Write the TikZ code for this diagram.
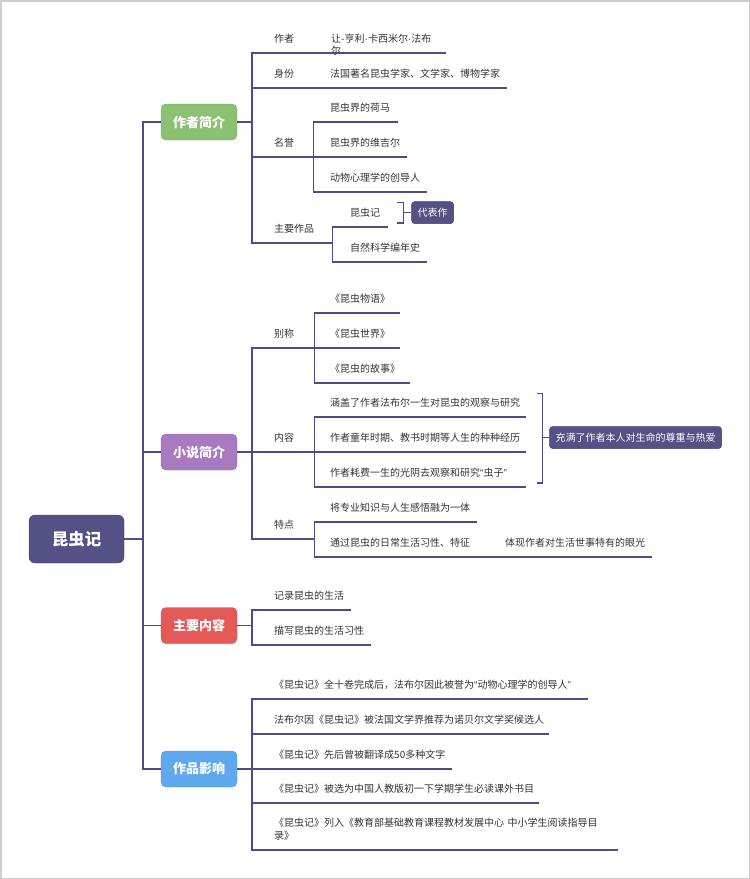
\documentclass[tikz,border=0pt]{standalone}
\usepackage{fontspec}
\newfontfamily\cjk{Noto Sans CJK SC}
\newfontfamily\latin{Liberation Sans}
\usepackage{tikz}
\usetikzlibrary{positioning}
\definecolor{linecol}{HTML}{4E4B87}
\definecolor{rootcol}{HTML}{545184}
\definecolor{rootline}{HTML}{423F70}
\definecolor{greencol}{HTML}{8CC173}
\definecolor{greenline}{HTML}{7AB060}
\definecolor{purplecol}{HTML}{A87BC0}
\definecolor{purpleline}{HTML}{9669AE}
\definecolor{redcol}{HTML}{E35A59}
\definecolor{redline}{HTML}{D04949}
\definecolor{bluecol}{HTML}{5FA8EE}
\definecolor{blueline}{HTML}{4F97DD}
\definecolor{textcol}{HTML}{333333}
\definecolor{bordercol}{HTML}{CCCCCC}
\tikzstyle{root} = [rectangle, rounded corners=6pt, fill=rootcol, draw=rootline, minimum width=95pt, minimum height=48pt, text=white, font=\cjk\bfseries\fontsize{16.5}{18}\selectfont]
\tikzstyle{topic} = [rectangle, rounded corners=5pt, minimum width=76pt, minimum height=36pt, text=white, font=\cjk\bfseries\fontsize{13}{15}\selectfont]
\tikzstyle{leaf} = [anchor=south west, inner xsep=0pt, inner ysep=10pt, text depth=0pt, align=left, text=textcol, font=\cjk\fontsize{10}{12}\selectfont]
\tikzstyle{tag} = [rectangle, rounded corners=3pt, fill=rootcol, draw=rootline, text=white, minimum height=22pt, inner xsep=6pt, font=\cjk\fontsize{10}{12}\selectfont]
\tikzstyle{branch} = [draw=linecol, line width=1.2pt]

\begin{document}
\begin{tikzpicture}[x=1pt, y=-1pt]
		\useasboundingbox (0,0) rectangle (750,879);
		\draw [bordercol, line width=1.5pt] (0.75,0.75) rectangle (749.25,878.25);
		% root and main topics
		\node (Root) [root] at (76.5,539) {昆虫记};
		\coordinate (MainFork) at (143,539);
		\node (AuthorIntro) [topic, fill=greencol, draw=greenline] at (199,122) {作者简介};
		\node (NovelIntro) [topic, fill=purplecol, draw=purpleline] at (199,452) {小说简介};
		\node (MainContent) [topic, fill=redcol, draw=redline] at (199,625.5) {主要内容};
		\node (Influence) [topic, fill=bluecol, draw=blueline] at (199,769) {作品影响};
		\draw [branch] (Root) -- (MainFork);
		\draw [branch] (MainFork) |- (AuthorIntro);
		\draw [branch] (MainFork) |- (NovelIntro);
		\draw [branch] (MainFork) |- (MainContent);
		\draw [branch] (MainFork) |- (Influence);
		% 作者简介
		\coordinate (ForkA) at (252,122);
		\node (Writer) [leaf, text width=39pt] at (274,53) {作者};
		\node (WriterName) [leaf, text width=115pt] at (331,53) {\rlap{\raisebox{-11.5pt}{尔}}让-亨利{\latin ·}卡西米尔{\latin ·}法布};
		\node (Identity) [leaf, text width=39pt] at (274,88) {身份};
		\node (IdentityText) [leaf, text width=177pt] at (330,88) {法国著名昆虫学家、文学家、博物学家};
		\node (Honor) [leaf, text width=39pt] at (274,157) {名誉};
		\node (HonorA) [leaf, text width=68pt] at (330,122) {昆虫界的荷马};
		\node (HonorB) [leaf, text width=77pt] at (330,157) {昆虫界的维吉尔};
		\node (HonorC) [leaf, text width=97pt] at (330,192) {动物心理学的创导人};
		\node (Works) [leaf, text width=58pt] at (274,243) {主要作品};
		\node (WorksA) [leaf, text width=38pt] at (350,227) {昆虫记};
		\node (WorksB) [leaf, text width=77pt] at (350,262) {自然科学编年史};
		\draw [branch] (AuthorIntro) -- (ForkA);
		\draw [branch] (ForkA) |- (Writer.south west) -- (Writer.south east) -- (WriterName.south west) -- (WriterName.south east);
		\draw [branch] (ForkA) |- (Identity.south west) -- (Identity.south east) -- (IdentityText.south west) -- (IdentityText.south east);
		\draw [branch] (ForkA) |- (Honor.south west) -- (Honor.south east) -- (HonorB.south west) -- (HonorB.south east);
		\draw [branch] (Honor.south east) |- (HonorA.south west) -- (HonorA.south east);
		\draw [branch] (Honor.south east) |- (HonorC.south west) -- (HonorC.south east);
		\draw [branch] (ForkA) |- (Works.south west) -- (Works.south east) |- (WorksA.south west) -- (WorksA.south east);
		\draw [branch] (Works.south east) |- (WorksB.south west) -- (WorksB.south east);
		\draw [branch] ([xshift=9pt,yshift=-4pt]WorksA.north east) -- ++(6,0) |- ([xshift=9pt,yshift=4pt]WorksA.south east);
		\coordinate (BraceA) at ([xshift=15pt]WorksA.east);
		\node (Masterpiece) [tag, right = 8pt of BraceA] {代表作};
		\draw [branch] (BraceA) -- (Masterpiece);
		% 小说简介
		\coordinate (ForkB) at (252,452);
		\node (Alias) [leaf, text width=40pt] at (274,348) {别称};
		\node (AliasA) [leaf, text width=70pt] at (330,313) {《昆虫物语》};
		\node (AliasB) [leaf, text width=70pt] at (330,348) {《昆虫世界》};
		\node (AliasC) [leaf, text width=80pt] at (330,383) {《昆虫的故事》};
		\node (Content) [leaf, text width=40pt] at (274,452) {内容};
		\node (Cover) [leaf, text width=196pt] at (330,417) {涵盖了作者法布尔一生对昆虫的观察与研究};
		\node (Childhood) [leaf, text width=196pt] at (330,452) {作者童年时期、教书时期等人生的种种经历};
		\node (Lifetime) [leaf, text width=196pt] at (330,487) {作者耗费一生的光阴去观察和研究{\latin “}虫子{\latin ”}};
		\node (Feature) [leaf, text width=40pt] at (274,539) {特点};
		\node (FeatureA) [leaf, text width=147pt] at (330,522) {将专业知识与人生感悟融为一体};
		\node (FeatureB) [leaf, text width=161pt] at (330,557) {通过昆虫的日常生活习性、特征};
		\node (FeatureC) [leaf, text width=147pt] at (505,557) {体现作者对生活世事特有的眼光};
		\draw [branch] (NovelIntro) -- (ForkB);
		\draw [branch] (ForkB) |- (Alias.south west) -- (Alias.south east) -- (AliasB.south west) -- (AliasB.south east);
		\draw [branch] (Alias.south east) |- (AliasA.south west) -- (AliasA.south east);
		\draw [branch] (Alias.south east) |- (AliasC.south west) -- (AliasC.south east);
		\draw [branch] (ForkB) |- (Content.south west) -- (Content.south east) -- (Childhood.south west) -- (Childhood.south east);
		\draw [branch] (Content.south east) |- (Cover.south west) -- (Cover.south east);
		\draw [branch] (Content.south east) |- (Lifetime.south west) -- (Lifetime.south east);
		\draw [branch] (ForkB) |- (Feature.south west) -- (Feature.south east) |- (FeatureA.south west) -- (FeatureA.south east);
		\draw [branch] (Feature.south east) |- (FeatureB.south west) -- (FeatureB.south east) -- (FeatureC.south west) -- (FeatureC.south east);
		\draw [branch] ([xshift=11pt,yshift=-5pt]Cover.north east) -- ++(5,0) |- ([xshift=11pt,yshift=4pt]Lifetime.south east);
		\coordinate (BraceB) at ([xshift=16pt]Childhood.east);
		\node (Passion) [tag, right = 7pt of BraceB] {充满了作者本人对生命的尊重与热爱};
		\draw [branch] (BraceB) -- (Passion);
		% 主要内容
		\coordinate (ForkC) at (252,625.5);
		\node (Record) [leaf, text width=77pt] at (274,610) {记录昆虫的生活};
		\node (Describe) [leaf, text width=97pt] at (274,645) {描写昆虫的生活习性};
		\draw [branch] (MainContent) -- (ForkC);
		\draw [branch] (ForkC) |- (Record.south west) -- (Record.south east);
		\draw [branch] (ForkC) |- (Describe.south west) -- (Describe.south east);
		% 作品影响
		\coordinate (ForkD) at (252,769);
		\node (Honorific) [leaf, text width=314pt] at (274,699) {《昆虫记》全十卷完成后，法布尔因此被誉为{\latin “}动物心理学的创导人{\latin ”}};
		\node (Nobel) [leaf, text width=275pt] at (274,734) {法布尔因《昆虫记》被法国文学界推荐为诺贝尔文学奖候选人};
		\node (Translate) [leaf, text width=178pt] at (274,769) {《昆虫记》先后曾被翻译成50多种文字};
		\node (Syllabus) [leaf, text width=265pt] at (274,803) {《昆虫记》被选为中国人教版初一下学期学生必读课外书目};
		\node (Catalog) [leaf, text width=344pt] at (274,850) {\rlap{\raisebox{13pt}{《昆虫记》列入《教育部基础教育课程教材发展中心 中小学生阅读指导目}}录》};
		\draw [branch] (Influence) -- (ForkD);
		\draw [branch] (ForkD) |- (Honorific.south west) -- (Honorific.south east);
		\draw [branch] (ForkD) |- (Nobel.south west) -- (Nobel.south east);
		\draw [branch] (ForkD) |- (Translate.south west) -- (Translate.south east);
		\draw [branch] (ForkD) |- (Syllabus.south west) -- (Syllabus.south east);
		\draw [branch] (ForkD) |- (Catalog.south west) -- (Catalog.south east);
		\end{tikzpicture}
\end{document}
